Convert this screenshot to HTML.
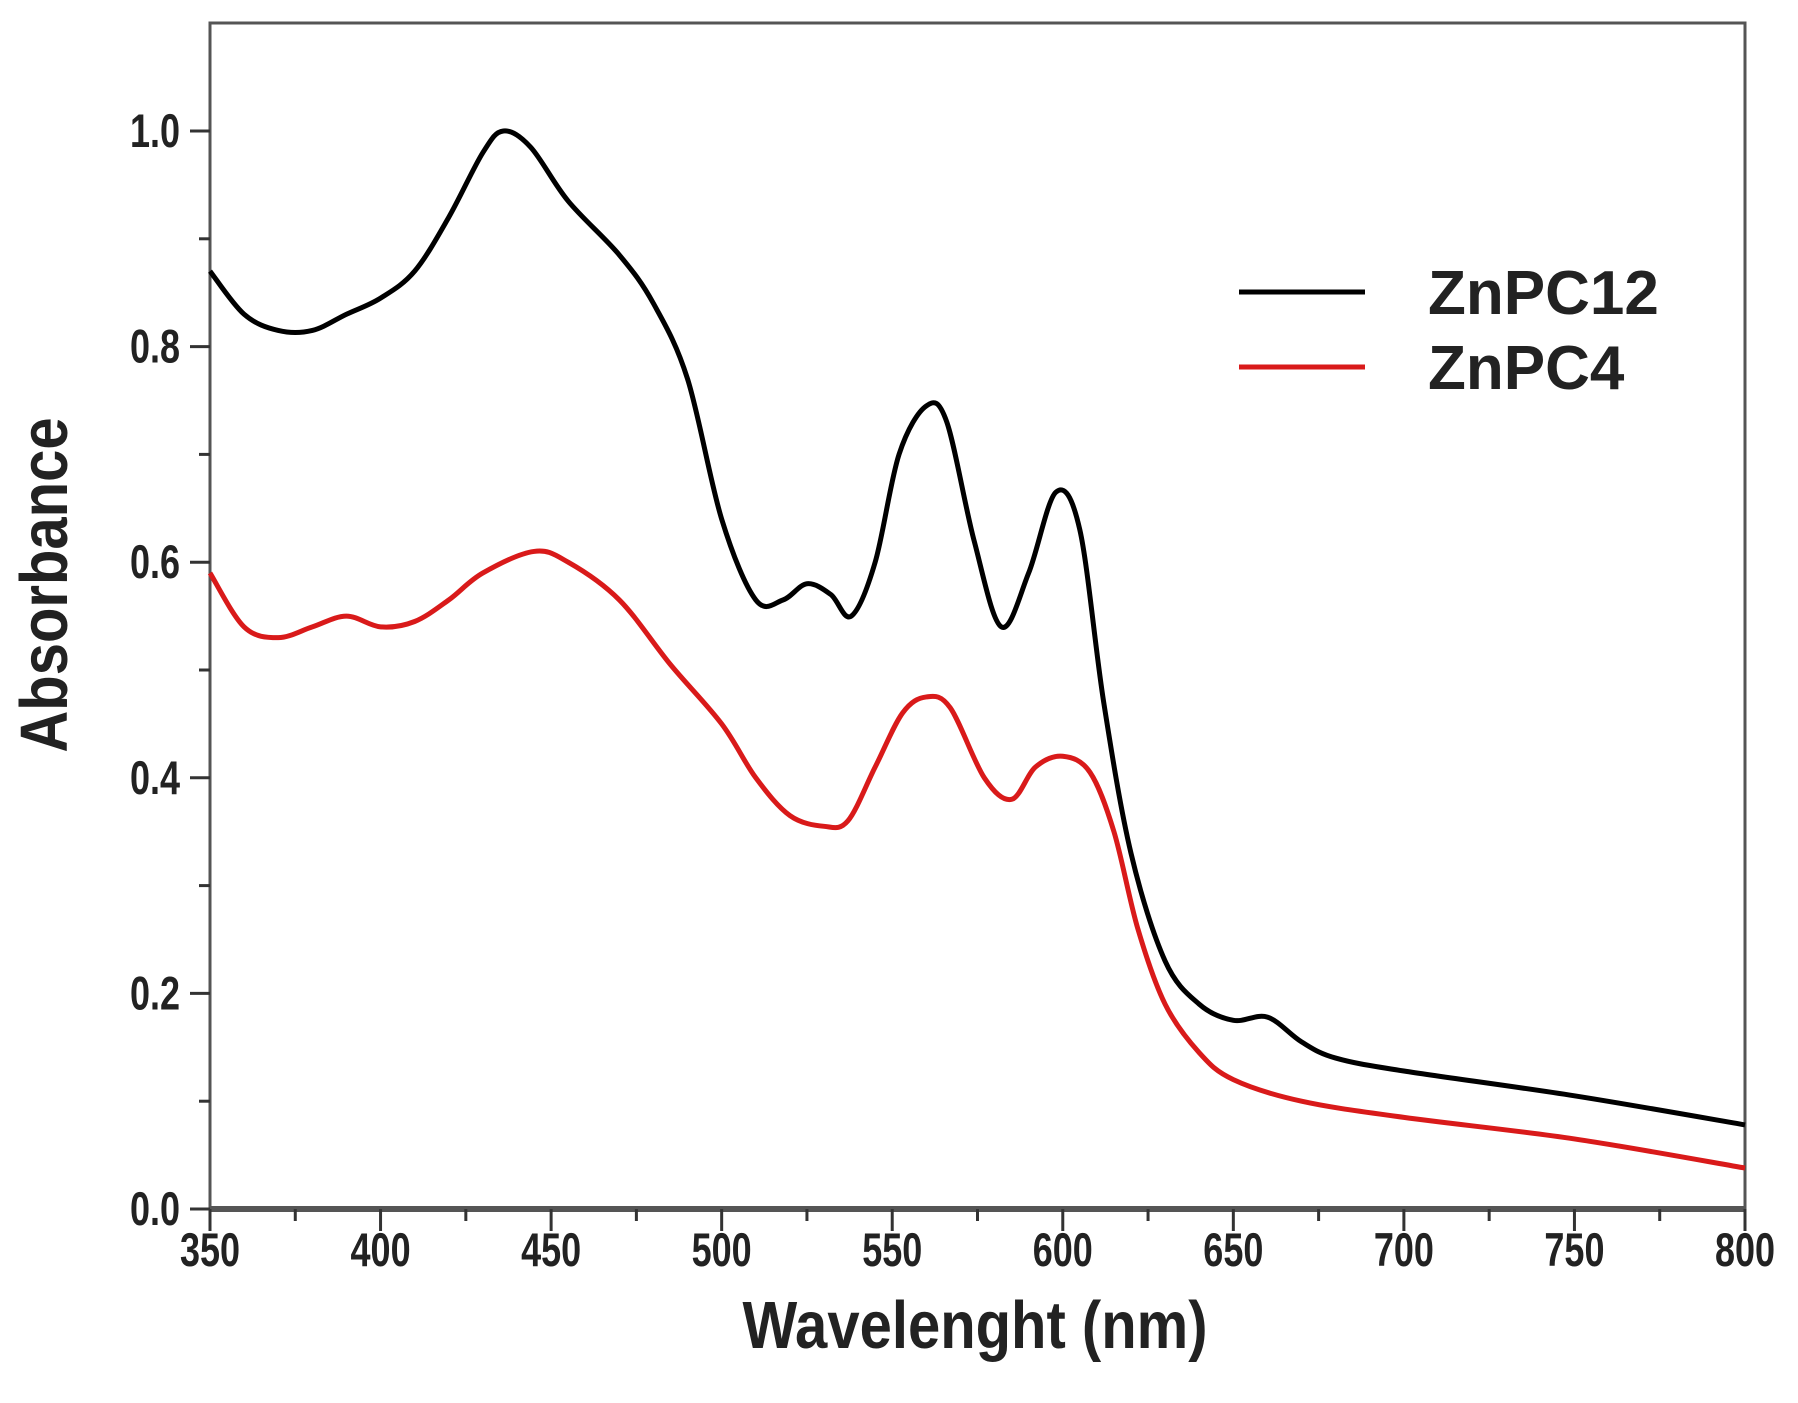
<!DOCTYPE html>
<html><head><meta charset="utf-8"><style>
html,body{margin:0;padding:0;background:#fff}
svg{display:block}
text{font-family:"Liberation Sans",Arial,sans-serif;font-weight:bold;fill:#222}
</style></head><body>
<svg id="s" width="1798" height="1403" viewBox="0 0 1798 1403" xmlns="http://www.w3.org/2000/svg">
<rect x="210" y="23" width="1535" height="1186" fill="none" stroke="#555" stroke-width="3"/>
<line x1="210" y1="1209" x2="1745" y2="1209" stroke="#555" stroke-width="6"/>
<g id="ticks" stroke="#333" stroke-width="3"></g>
<g id="labels" font-size="36"></g>
<path id="bk" fill="none" stroke="#000" stroke-width="5" stroke-linejoin="round"/>
<path id="rd" fill="none" stroke="#d91a1a" stroke-width="5" stroke-linejoin="round"/>
<line x1="1239" y1="292" x2="1365" y2="292" stroke="#000" stroke-width="5"/>
<line x1="1239" y1="367" x2="1365" y2="367" stroke="#d91a1a" stroke-width="5"/>
<text x="1428" y="314" font-size="62">ZnPC12</text>
<text x="1428" y="389" font-size="62">ZnPC4</text>
<text transform="translate(975,1348) scale(1,1.15)" font-size="58" text-anchor="middle">Wavelenght (nm)</text>
<text transform="translate(67,585) rotate(-90) scale(1,1.15)" font-size="58" text-anchor="middle">Absorbance</text>
</svg>
<script>
const X=w=>210+(w-350)*(1535/450), Y=a=>1209-a*1078;
const ns="http://www.w3.org/2000/svg";
const tk=document.getElementById('ticks'),lb=document.getElementById('labels');
function ln(x1,y1,x2,y2){const l=document.createElementNS(ns,'line');l.setAttribute('x1',x1);l.setAttribute('y1',y1);l.setAttribute('x2',x2);l.setAttribute('y2',y2);tk.appendChild(l);}
function tx(x,y,s,a){const t=document.createElementNS(ns,'text');t.setAttribute('transform',`translate(${x},${y}) scale(1,1.3)`);t.setAttribute('text-anchor',a);t.textContent=s;lb.appendChild(t);}
for(let w=350;w<=800;w+=25){const maj=(w%50==0);ln(X(w),1209,X(w),1209+(maj?22:12));if(maj)tx(X(w),1266,String(w),'middle');}
for(let i=0;i<=10;i++){const a=i/10,maj=(i%2==0);ln(210,Y(a),210-(maj?20:11),Y(a));if(maj)tx(180,Y(a)+16,a.toFixed(1),'end');}
function path(d){const p=d.map(([w,a])=>[X(w),Y(a)]);let s=`M${p[0][0]},${p[0][1]}`;
for(let i=0;i<p.length-1;i++){const p0=p[i-1]||p[i],p1=p[i],p2=p[i+1],p3=p[i+2]||p2;
s+=` C${p1[0]+(p2[0]-p0[0])/6},${p1[1]+(p2[1]-p0[1])/6} ${p2[0]-(p3[0]-p1[0])/6},${p2[1]-(p3[1]-p1[1])/6} ${p2[0]},${p2[1]}`;}return s;}
const bk=[[350,0.87],[360,0.83],[370,0.815],[380,0.815],[390,0.83],[400,0.845],[410,0.87],[420,0.92],[430,0.98],[436,1.0],[444,0.985],[455,0.935],[470,0.885],[480,0.84],[490,0.77],[500,0.64],[510,0.565],[518,0.565],[525,0.58],[532,0.57],[538,0.55],[545,0.6],[552,0.7],[560,0.745],[566,0.73],[574,0.62],[582,0.54],[590,0.59],[598,0.665],[605,0.63],[612,0.47],[620,0.33],[630,0.23],[640,0.19],[650,0.175],[660,0.178],[670,0.155],[680,0.14],[700,0.128],[750,0.105],[800,0.078]];
const rd=[[350,0.59],[360,0.54],[370,0.53],[380,0.54],[390,0.55],[400,0.54],[410,0.545],[420,0.565],[430,0.59],[445,0.61],[455,0.6],[470,0.565],[485,0.505],[500,0.45],[510,0.4],[520,0.365],[530,0.355],[537,0.36],[545,0.41],[553,0.46],[560,0.475],[567,0.465],[577,0.4],[585,0.38],[592,0.41],[600,0.42],[608,0.405],[615,0.35],[622,0.26],[630,0.19],[640,0.145],[650,0.12],[670,0.1],[700,0.085],[750,0.065],[800,0.038]];
document.getElementById('bk').setAttribute('d',path(bk));
document.getElementById('rd').setAttribute('d',path(rd));
</script>
</body></html>
